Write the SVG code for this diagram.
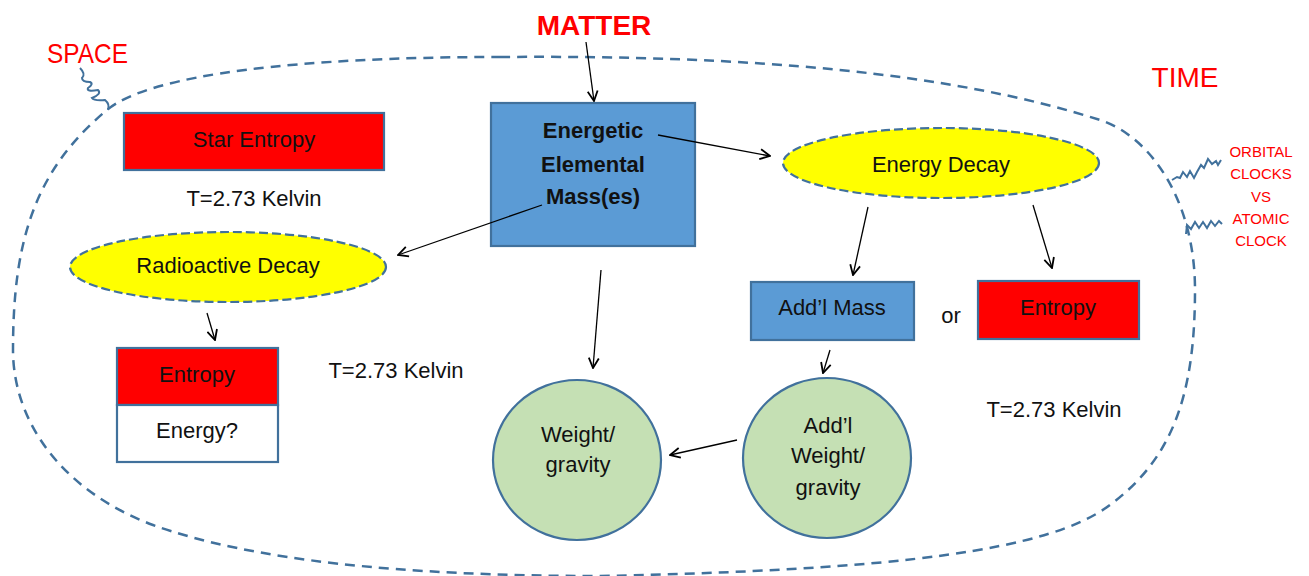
<svg xmlns="http://www.w3.org/2000/svg" width="1309" height="576" viewBox="0 0 1309 576">
<style>
text{font-family:"Liberation Sans",Arial,sans-serif;fill:#111;}
.lbl{font-size:22px;text-anchor:middle;}
.big{font-size:28px;fill:#FF0000;}
.clock{font-size:15px;fill:#FF0000;text-anchor:middle;}
.box{stroke:#41719C;stroke-width:2.2;}
.dashed{stroke:#41719C;stroke-width:2.2;stroke-dasharray:9 4;fill:#FFFF00;}
.circ{fill:#C5E0B4;stroke:#41719C;stroke-width:2.2;}
.conn line{stroke:#000;stroke-width:1.3;marker-end:url(#arr);}
.wave{fill:none;stroke:#41719C;stroke-width:2;}
</style>
<defs>
<marker id="arr" viewBox="0 0 12 12" refX="11" refY="6" markerWidth="12" markerHeight="12" markerUnits="userSpaceOnUse" orient="auto">
<path d="M1,1 L11,6 L1,11" fill="none" stroke="#000" stroke-width="1.8"/>
</marker>
</defs>
<rect width="1309" height="576" fill="#fff"/>
<g id="boundary">
<path d="M500,57 C750,55 950,72 1100,120 C1150,136 1195,200 1195,290 C1195,400 1170,460 1110,505 C1050,550 900,570 600,576 C400,576 250,560 153,525 C60,490 13,420 13,350 C13,240 35,170 107,110 C150,74 300,57 500,57 Z" fill="none" stroke="#41719C" stroke-width="2.5" stroke-dasharray="10 7"/>
<path class="wave" d="M80,68 Q86,74 82,78 Q82,82 90,82 Q94,84 88,88 Q86,92 98,90 Q102,94 92,98 Q94,101 105,100 Q110,104 108,110"/>
<path class="wave" d="M1172,180 L1177,177 L1180,178 L1183,172 L1187,177 L1190,171 L1194,178 L1197,172 L1201,165 L1204,168 L1208,159 L1212,164 L1216,161 L1218,165 L1221,160"/>
<path class="wave" d="M1186,234 L1187,225 L1191,229 L1195,222 L1199,228 L1203,222 L1207,228 L1211,221 L1215,226 L1219,221 L1222,224"/>
</g>
<g id="labels">
<text class="big" x="47" y="63" font-size="26" textLength="81" lengthAdjust="spacingAndGlyphs">SPACE</text>
<text class="big" x="594" y="35" text-anchor="middle" font-weight="bold" font-size="27">MATTER</text>
<text class="big" x="1185" y="87" text-anchor="middle">TIME</text>
<text class="clock" x="1261" y="157">ORBITAL</text>
<text class="clock" x="1261" y="179">CLOCKS</text>
<text class="clock" x="1261" y="202">VS</text>
<text class="clock" x="1261" y="224">ATOMIC</text>
<text class="clock" x="1261" y="246">CLOCK</text>
<text class="lbl" x="254" y="206">T=2.73 Kelvin</text>
<text class="lbl" x="396" y="378">T=2.73 Kelvin</text>
<text class="lbl" x="1054" y="417">T=2.73 Kelvin</text>
<text class="lbl" x="951" y="323">or</text>
</g>
<g id="star-entropy">
<rect class="box" x="124" y="113" width="260" height="57" fill="#FF0000"/>
<text class="lbl" x="254" y="147">Star Entropy</text>
</g>
<g id="mass">
<rect class="box" x="491" y="103" width="204" height="143" fill="#5B9BD5"/>
<text class="lbl" x="593" y="138" font-weight="bold" font-size="21">Energetic</text>
<text class="lbl" x="593" y="172" font-weight="bold" font-size="21">Elemental</text>
<text class="lbl" x="593" y="204" font-weight="bold" font-size="21">Mass(es)</text>
</g>
<g id="energy-decay">
<ellipse class="dashed" cx="941" cy="163" rx="158" ry="35"/>
<text class="lbl" x="941" y="172">Energy Decay</text>
</g>
<g id="radioactive-decay">
<ellipse class="dashed" cx="228" cy="267" rx="158" ry="35"/>
<text class="lbl" x="228" y="273">Radioactive Decay</text>
</g>
<g id="entropy-energy">
<rect class="box" x="117" y="348" width="161" height="57" fill="#FF0000"/>
<rect class="box" x="117" y="405" width="161" height="57" fill="#FFFFFF"/>
<text class="lbl" x="197" y="382">Entropy</text>
<text class="lbl" x="197" y="438">Energy?</text>
</g>
<g id="addl-mass">
<rect class="box" x="751" y="282" width="163" height="58" fill="#5B9BD5"/>
<text class="lbl" x="832" y="315">Add’l Mass</text>
</g>
<g id="entropy-right">
<rect class="box" x="978" y="281" width="161" height="58" fill="#FF0000"/>
<text class="lbl" x="1058" y="315">Entropy</text>
</g>
<g id="weight">
<ellipse class="circ" cx="577" cy="460" rx="84" ry="80"/>
<text class="lbl" x="578" y="442">Weight/</text>
<text class="lbl" x="578" y="472">gravity</text>
</g>
<g id="addl-weight">
<ellipse class="circ" cx="827" cy="458" rx="84" ry="80"/>
<text class="lbl" x="828" y="433">Add’l</text>
<text class="lbl" x="828" y="463">Weight/</text>
<text class="lbl" x="828" y="495">gravity</text>
</g>
<g id="connectors" class="conn">
<line x1="586" y1="42" x2="594" y2="101"/>
<line x1="658" y1="135" x2="770" y2="156"/>
<line x1="542" y1="205" x2="398" y2="255"/>
<line x1="601" y1="270" x2="593" y2="368"/>
<line x1="868" y1="207" x2="853" y2="275"/>
<line x1="1033" y1="205" x2="1052" y2="268"/>
<line x1="830" y1="350" x2="823" y2="373"/>
<line x1="737" y1="440" x2="670" y2="455"/>
<line x1="207" y1="313" x2="215" y2="340"/>
</g>
</svg>
